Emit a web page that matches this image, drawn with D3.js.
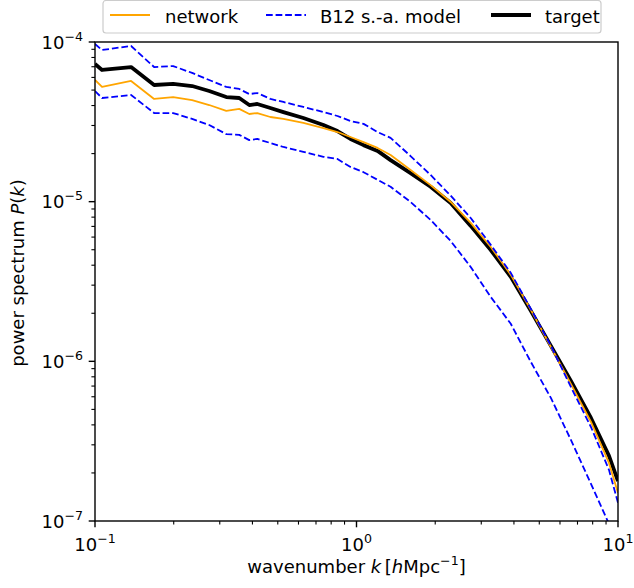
<!DOCTYPE html>
<html lang="en">
<head>
<meta charset="UTF-8">
<title>Power spectrum</title>
<script src="https://d3js.org/d3.v7.min.js"></script>
<style>
  body { margin: 0; background: #fff; }
  text { font-family: "DejaVu Sans", sans-serif; fill: #000; }
</style>
</head>
<body>
<svg width="634" height="588"></svg>
<script>
// wavenumber grid (h/Mpc)
const k = [0.1, 0.1064, 0.1374, 0.1683, 0.199, 0.2352, 0.2734, 0.3177, 0.3561, 0.389,
  0.4175, 0.4683, 0.5253, 0.6263, 0.7473, 0.8456, 0.9484, 1.064, 1.204, 1.35,
  1.61, 1.92, 2.292, 2.734, 3.262, 3.89, 4.642, 5.538, 6.605, 7.882, 9.237, 10.0];

const target = [7.28e-5, 6.68e-5, 6.97e-5, 5.38e-5, 5.46e-5, 5.30e-5, 4.93e-5, 4.52e-5, 4.46e-5, 4.03e-5,
  4.09e-5, 3.86e-5, 3.64e-5, 3.34e-5, 3.02e-5, 2.77e-5, 2.47e-5, 2.26e-5, 2.08e-5, 1.82e-5,
  1.51e-5, 1.24e-5, 9.81e-6, 7.05e-6, 4.98e-6, 3.38e-6, 2.07e-6, 1.25e-6, 7.54e-7, 4.42e-7, 2.56e-7, 1.78e-7];

const network = [5.78e-5, 5.23e-5, 5.70e-5, 4.40e-5, 4.52e-5, 4.33e-5, 4.03e-5, 3.70e-5, 3.81e-5, 3.54e-5,
  3.59e-5, 3.39e-5, 3.30e-5, 3.11e-5, 2.89e-5, 2.73e-5, 2.54e-5, 2.36e-5, 2.17e-5, 1.96e-5,
  1.58e-5, 1.27e-5, 9.96e-6, 7.36e-6, 5.20e-6, 3.48e-6, 2.10e-6, 1.23e-6, 7.22e-7, 4.17e-7, 2.31e-7, 1.50e-7];

const b12Upper = [9.72e-5, 8.91e-5, 9.44e-5, 6.97e-5, 7.07e-5, 6.40e-5, 5.78e-5, 5.23e-5, 5.08e-5, 4.72e-5,
  4.79e-5, 4.40e-5, 4.21e-5, 3.92e-5, 3.64e-5, 3.44e-5, 3.20e-5, 3.07e-5, 2.73e-5, 2.51e-5,
  1.93e-5, 1.47e-5, 1.09e-5, 7.90e-6, 5.36e-6, 3.58e-6, 2.13e-6, 1.25e-6, 6.91e-7, 3.88e-7, 2.09e-7, 1.30e-7];

const b12Lower = [4.93e-5, 4.46e-5, 4.66e-5, 3.59e-5, 3.59e-5, 3.30e-5, 3.02e-5, 2.65e-5, 2.62e-5, 2.43e-5,
  2.47e-5, 2.33e-5, 2.20e-5, 2.05e-5, 1.91e-5, 1.85e-5, 1.65e-5, 1.53e-5, 1.37e-5, 1.24e-5,
  9.96e-6, 7.68e-6, 5.67e-6, 3.90e-6, 2.53e-6, 1.72e-6, 9.91e-7, 5.90e-7, 3.22e-7, 1.71e-7, 9.59e-8, 6.79e-8];

const xTicks = [0.1, 1, 10];
const xTickExp = ["−1", "0", "1"];
const yTicks = [1e-7, 1e-6, 1e-5, 1e-4];
const yTickExp = ["−7", "−6", "−5", "−4"];

const svg = d3.select("svg");
const mLeft = 95, mRight = 618, mTop = 42, mBottom = 521;
const fs = 18, fsSup = 12.6;

const x = d3.scaleLog().domain([0.1, 10]).range([mLeft, mRight]);
const y = d3.scaleLog().domain([1e-7, 1e-4]).range([mBottom, mTop]);

svg.append("clipPath").attr("id", "plotclip")
  .append("rect").attr("x", mLeft).attr("y", mTop)
  .attr("width", mRight - mLeft).attr("height", mBottom - mTop);

const plot = svg.append("g").attr("clip-path", "url(#plotclip)");

function drawLine(vals, color, width, dash) {
  const line = d3.line().x((d, i) => x(k[i])).y(d => y(d));
  plot.append("path").datum(vals)
    .attr("fill", "none")
    .attr("stroke", color)
    .attr("stroke-width", width)
    .attr("stroke-linejoin", "round")
    .attr("stroke-dasharray", dash || null)
    .attr("d", line);
}

const dashed = "6.7,2.9";
drawLine(target, "#000", 3.8);
drawLine(network, "orange", 1.8);
drawLine(b12Upper, "blue", 1.8, dashed);
drawLine(b12Lower, "blue", 1.8, dashed);

// minor ticks
const xMinor = [];
for (let d = 0.1; d < 10; d *= 10)
  for (let m = 2; m <= 9; m++) xMinor.push(d * m);
const yMinor = [];
for (let d = 1e-7; d < 1e-4; d *= 10)
  for (let m = 2; m <= 9; m++) yMinor.push(d * m);

const axX = svg.append("g").attr("transform", `translate(0,${mBottom})`);
axX.selectAll(".minor").data(xMinor).enter().append("line")
  .attr("x1", d => x(d)).attr("x2", d => x(d))
  .attr("y1", 0).attr("y2", 3.6).attr("stroke", "#000").attr("stroke-width", 1.1);
axX.selectAll(".major").data(xTicks).enter().append("line")
  .attr("x1", d => x(d)).attr("x2", d => x(d))
  .attr("y1", 0).attr("y2", 6.3).attr("stroke", "#000").attr("stroke-width", 1.4);
const xl = axX.selectAll(".lab").data(xTicks).enter().append("text")
  .attr("x", d => x(d)).attr("y", 30)
  .attr("text-anchor", "middle").attr("font-size", fs);
xl.append("tspan").text("10");
xl.append("tspan").attr("dy", -8).attr("font-size", fsSup).text((d, i) => xTickExp[i]);

const axY = svg.append("g").attr("transform", `translate(${mLeft},0)`);
axY.selectAll(".minor").data(yMinor).enter().append("line")
  .attr("y1", d => y(d)).attr("y2", d => y(d))
  .attr("x1", 0).attr("x2", -3.6).attr("stroke", "#000").attr("stroke-width", 1.1);
axY.selectAll(".major").data(yTicks).enter().append("line")
  .attr("y1", d => y(d)).attr("y2", d => y(d))
  .attr("x1", 0).attr("x2", -6.3).attr("stroke", "#000").attr("stroke-width", 1.4);
const yl = axY.selectAll(".lab").data(yTicks).enter().append("text")
  .attr("x", -12).attr("y", d => y(d) + 6.5)
  .attr("text-anchor", "end").attr("font-size", fs);
yl.append("tspan").text("10");
yl.append("tspan").attr("dy", -8).attr("font-size", fsSup).text((d, i) => yTickExp[i]);

// frame
svg.append("rect").attr("x", mLeft).attr("y", mTop)
  .attr("width", mRight - mLeft).attr("height", mBottom - mTop)
  .attr("fill", "none").attr("stroke", "#000").attr("stroke-width", 1.4);

// axis titles
const xt = svg.append("text").attr("x", (mLeft + mRight) / 2).attr("y", 573)
  .attr("text-anchor", "middle").attr("font-size", fs);
xt.append("tspan").text("wavenumber ");
xt.append("tspan").attr("font-style", "italic").text("k");
xt.append("tspan").text("\u2009[");
xt.append("tspan").attr("font-style", "italic").text("h");
xt.append("tspan").text("Mpc");
xt.append("tspan").attr("dy", -8).attr("font-size", fsSup).text("−1");
xt.append("tspan").attr("dy", 8).text("]");

const yt = svg.append("text")
  .attr("transform", "translate(24,273) rotate(-90)")
  .attr("text-anchor", "middle").attr("font-size", fs);
yt.append("tspan").text("power spectrum ");
yt.append("tspan").attr("font-style", "italic").text("P");
yt.append("tspan").text("(");
yt.append("tspan").attr("font-style", "italic").text("k");
yt.append("tspan").text(")");

// legend
const legendItems = [
  { label: "network", color: "orange", width: 1.8, dash: null, x: 110, tx: 165 },
  { label: "B12 s.-a. model", color: "blue", width: 1.8, dash: dashed, x: 266, tx: 320 },
  { label: "target", color: "#000", width: 3.8, dash: null, x: 491, tx: 545 }
];
const lg = svg.append("g");
lg.append("rect").attr("x", 103).attr("y", 0.5).attr("width", 498).attr("height", 32.5)
  .attr("rx", 3).attr("fill", "#fff").attr("fill-opacity", 0.8)
  .attr("stroke", "#cccccc").attr("stroke-width", 1.2);
const li = lg.selectAll(".item").data(legendItems).enter().append("g");
li.append("line")
  .attr("x1", d => d.x).attr("x2", d => d.x + 40)
  .attr("y1", 15).attr("y2", 15)
  .attr("stroke", d => d.color).attr("stroke-width", d => d.width)
  .attr("stroke-dasharray", d => d.dash);
li.append("text").attr("x", d => d.tx).attr("y", 23)
  .attr("font-size", fs).text(d => d.label);
</script>
</body>
</html>
